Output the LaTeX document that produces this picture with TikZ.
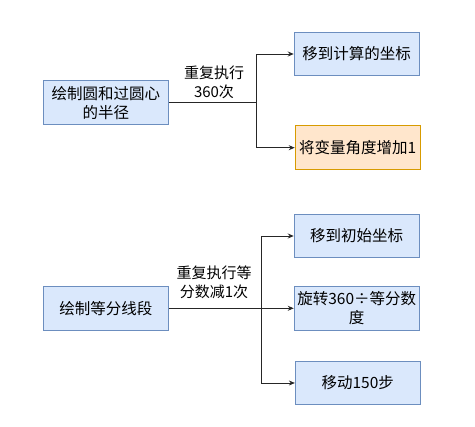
\documentclass[tikz,border=0pt]{standalone}
\usepackage{fontspec}
\setmainfont{Noto Sans CJK SC}
\usetikzlibrary{arrows.meta}
\definecolor{bfill}{HTML}{DAE8FC}
\definecolor{bline}{HTML}{6C8EBF}
\definecolor{ofill}{HTML}{FFE6CC}
\definecolor{oline}{HTML}{D79B00}
\begin{document}
\begin{tikzpicture}[x=1pt,y=-1pt,
  bluebox/.style={draw=bline,fill=bfill,line width=0.9pt,minimum width=125pt,minimum height=43.5pt,inner sep=2pt,align=center,font=\fontsize{15.5}{19}\selectfont},
  orangebox/.style={bluebox,draw=oline,fill=ofill},
  conn/.style={line width=0.9pt,draw=black!85},
  arr/.style={conn,-{Stealth[length=6pt,width=5pt]}},
  lbl/.style={align=center,font=\fontsize{15}{19}\selectfont,inner sep=0pt}]
\useasboundingbox (0,0) rectangle (475,427);
% top group
\node[bluebox] (a) at (105.8,102.7) {绘制圆和过圆心\\的半径};
\node[bluebox] (b) at (356.7,54) {移到计算的坐标};
\node[orangebox] (c) at (357.7,147.7) {将变量角度增加1};
\coordinate (j1) at (256.7,102.7);
\draw[conn] (a.east) -- (j1);
\draw[arr] (j1) |- (b.west);
\draw[arr] (j1) |- (c.west);
\node[lbl] (l1) at (214,82) {重复执行\\360次};
% bottom group
\node[bluebox] (d) at (105.8,308.5) {绘制等分线段};
\node[bluebox] (e) at (356.7,236) {移到初始坐标};
\node[bluebox] (f) at (356.7,308.3) {旋转360÷等分数\\度};
\node[bluebox] (g) at (357.8,383) {移动150步};
\coordinate (j2) at (261,308.3);
\draw[arr] (d.east |- f.west) -- (f.west);
\draw[arr] (j2) |- (e.west);
\draw[arr] (j2) |- (g.west);
\node[lbl] (l2) at (214,282) {重复执行等\\分数减1次};
\end{tikzpicture}
\end{document}
